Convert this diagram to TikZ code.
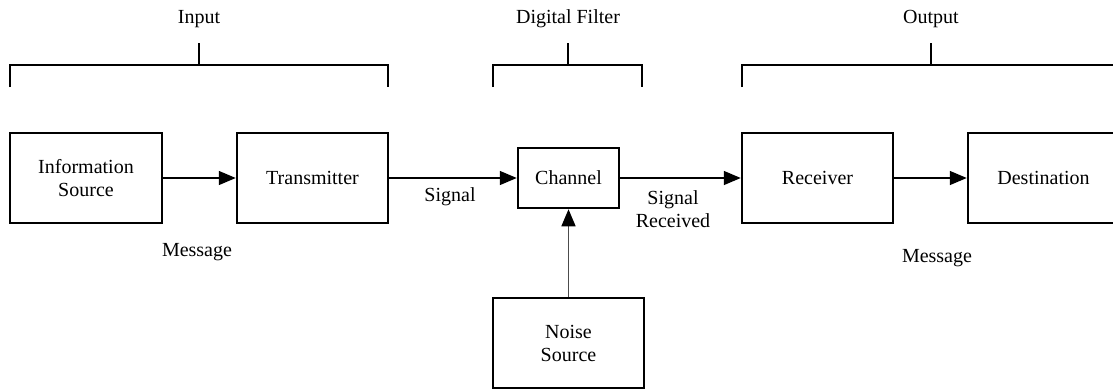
\documentclass[tikz,border=0pt]{standalone}
\usepackage{fontspec}
\setmainfont{Liberation Serif}
\usetikzlibrary{arrows.meta}
\begin{document}
\begin{tikzpicture}[x=1pt,y=-1pt,
  every node/.style={font=\fontsize{20}{23}\selectfont, align=center, inner sep=0pt},
  blockbox/.style={draw, line width=2.5pt, minimum width=151pt, minimum height=90pt},
  chanbox/.style={draw, line width=2.5pt, minimum width=101pt, minimum height=60pt},
  arr/.style={line width=1.5pt, -{Triangle[length=17pt,width=14pt]}},
  grayarr/.style={line width=1.5pt, draw=black!70, -{Triangle[length=17pt,width=14pt,color=black]}},
  brace/.style={line width=2.5pt}]
\useasboundingbox (0,0) rectangle (1113,389);
\clip (0,0) rectangle (1113,389);
% blocks
\node[blockbox, minimum width=152pt] (info) at (86,178) {Information\\Source};
\node[blockbox] (tx) at (312.5,178) {Transmitter};
\node[chanbox] (ch) at (568.5,178) {Channel};
\node[blockbox] (rx) at (817.5,178) {Receiver};
\node[blockbox] (dest) at (1043.5,178) {Destination};
\node[blockbox] (noise) at (568.5,343) {Noise\\Source};
% connectors
\draw[arr] (info) -- (tx);
\draw[arr] (tx) -- (ch);
\draw[arr] (ch) -- (rx);
\draw[arr] (rx) -- (dest);
\draw[grayarr] (noise) -- (ch);
% labels
\node (msg1) at (197,252) {Message};
\node (sig) at (450,197) {Signal};
\node (sigrec) at (673,209.5) {Signal\\Received};
\node (msg2) at (937,258) {Message};
% group titles
\node (tin) at (199,19) {Input};
\node (tdf) at (568,19) {Digital Filter};
\node (tout) at (931,19) {Output};
% brackets
\draw[brace] (10,87) -- (10,65) -- (388,65) -- (388,87);
\draw[brace] (199,65) -- (199,43);
\draw[brace] (493,87) -- (493,65) -- (642,65) -- (642,87);
\draw[brace] (568,65) -- (568,43);
\draw[brace] (742,87) -- (742,65) -- (1120,65) -- (1120,87);
\draw[brace] (931,65) -- (931,43);
\end{tikzpicture}
\end{document}
